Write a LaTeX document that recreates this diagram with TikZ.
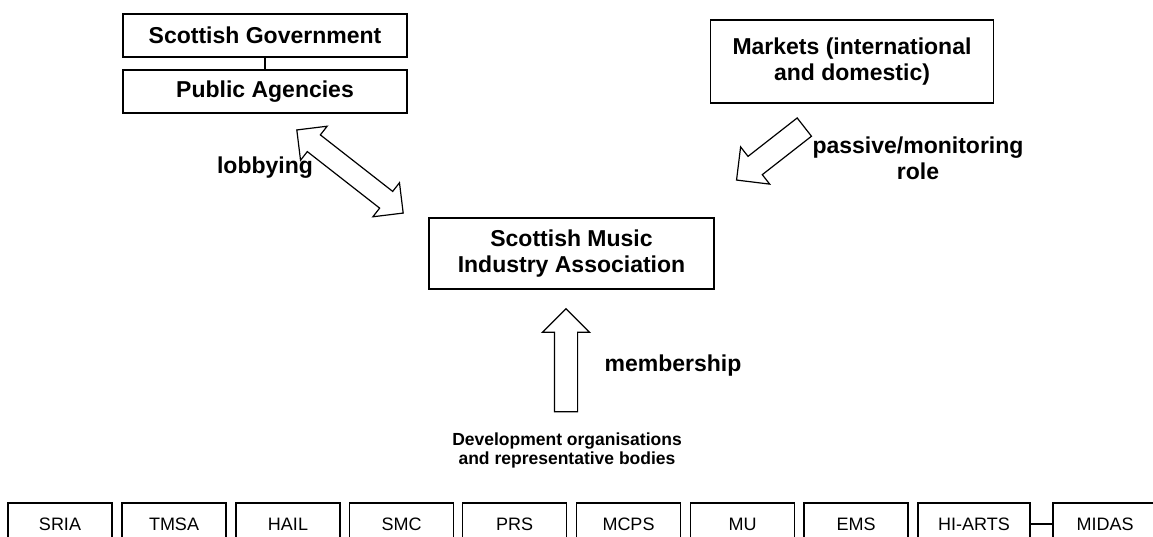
\documentclass[tikz,border=0pt]{standalone}
\usepackage{fontspec}
\setmainfont{Liberation Sans}
\usetikzlibrary{shapes.arrows}

\tikzset{
	box/.style={draw, line width=1.2pt, inner sep=0pt, align=center,
		font=\fontsize{23}{26.5}\selectfont\bfseries},
	memberbox/.style={draw, line width=1.2pt, inner sep=0pt,
		minimum width=104pt, minimum height=42pt, font=\fontsize{18}{21}\selectfont},
	lbl/.style={align=center, font=\fontsize{23}{26}\selectfont\bfseries},
	fatarrow/.style={single arrow, draw, line width=1.2pt, inner xsep=0pt, inner ysep=11pt,
		single arrow head extend=12pt},
	fatdouble/.style={double arrow, draw, line width=1.2pt, inner xsep=0pt, inner ysep=10pt,
		double arrow head extend=11pt}
}

\begin{document}
\begin{tikzpicture}[x=1pt, y=-1pt]
	\useasboundingbox (0,0) rectangle (1153,536);
	\clip (0,0) rectangle (1153,536);

	\node[box, minimum width=284pt, minimum height=43pt] (gov) at (265,35.5) {Scottish Government};
	\node[box, minimum width=284pt, minimum height=43pt] (agencies) at (265,91.5) {Public Agencies};
	\draw[line width=1.2pt] (gov) -- (agencies);

	\node[box, minimum width=283pt, minimum height=83pt] (markets) at (852,61.5) {Markets (international\\and domestic)};

	\node[box, minimum width=285pt, minimum height=71pt] (smia) at (571.5,253.5) {Scottish Music\\Industry Association};

	\node[fatdouble, minimum height=135pt, rotate=-38] (lobbyarrow) at (350,171.5) {};
	\node[lbl] (lobbying) at (265,168) {lobbying};

	\node[fatarrow, minimum height=86pt, rotate=218] (marketarrow) at (775,150) {};
	\node[lbl] (passive) at (918,158) {passive/monitoring\\role};

	\node[fatarrow, minimum height=103pt, rotate=90] (memberarrow) at (566,366) {};
	\node[lbl] (membership) at (673,366) {membership};

	\node[align=center, font=\fontsize{17.5}{19}\selectfont\bfseries] (devbodies) at (567,450) {Development organisations\\and representative bodies};

	\node[memberbox] (sria) at (60,524) {SRIA};
	\node[memberbox] (tmsa) at (174,524) {TMSA};
	\node[memberbox] (hail) at (288,524) {HAIL};
	\node[memberbox] (smc) at (401.5,524) {SMC};
	\node[memberbox] (prs) at (514.5,524) {PRS};
	\node[memberbox] (mcps) at (628.5,524) {MCPS};
	\node[memberbox] (mu) at (742.5,524) {MU};
	\node[memberbox] (ems) at (856,524) {EMS};
	\node[memberbox, minimum width=112pt] (hiarts) at (974,524) {HI-ARTS};
	\node[memberbox] (midas) at (1105,524) {MIDAS};
	\draw[line width=1.2pt] (hiarts) -- (midas);
\end{tikzpicture}
\end{document}
